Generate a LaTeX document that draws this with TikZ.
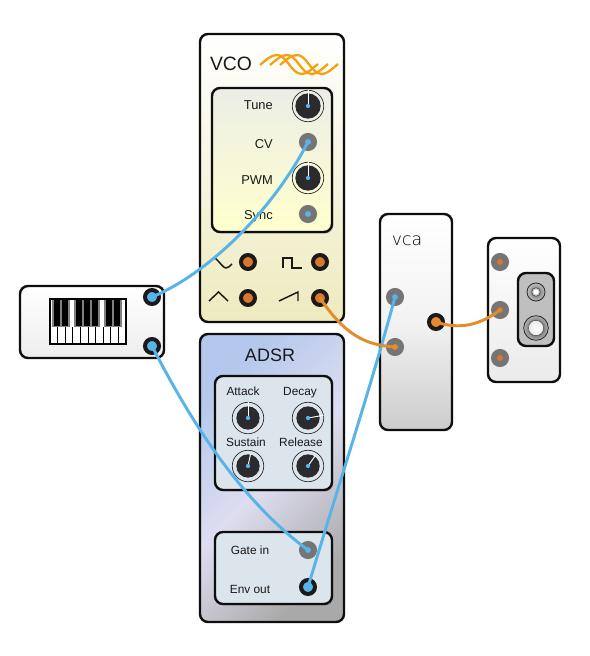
\documentclass[tikz,border=0pt]{standalone}
\usepackage{fontspec}
\setmainfont{Liberation Sans}
\newfontfamily\thinfont{DejaVu Sans ExtraLight}
\usetikzlibrary{shadows}
\definecolor{cblue}{HTML}{56B4E9}
\definecolor{corange}{HTML}{E68A2E}
\definecolor{dotorange}{HTML}{D9782A}
\definecolor{portgrey}{HTML}{757575}
\definecolor{portblack}{HTML}{1A1A1A}
\definecolor{edge}{HTML}{0E0E0E}
\definecolor{knobdark}{HTML}{2B2B2D}
\definecolor{waveorange}{HTML}{F5A010}
\definecolor{adsrA}{HTML}{A9A9A9}
\definecolor{adsrB}{HTML}{DEDDF0}
\definecolor{adsrC}{HTML}{B3C8EC}
\pgfdeclareverticalshading{adsrshade}{100bp}{color(0bp)=(adsrA); color(25bp)=(adsrA); color(50bp)=(adsrB); color(75bp)=(adsrC); color(100bp)=(adsrC)}
\tikzset{
  panel/.style={draw=edge,line width=1.8pt,rounded corners=6pt,inner sep=0pt,outer sep=0pt},
  inset/.style={draw=edge,line width=1.8pt,rounded corners=6pt,inner sep=0pt,outer sep=0pt,
    drop shadow={shadow xshift=1pt,shadow yshift=-1.2pt,opacity=.35}},
  lab/.style={inner sep=0pt,font=\fontsize{9.65pt}{11pt}\selectfont,text=black!90},
  smalllab/.style={inner sep=0pt,anchor=base,font=\fontsize{8.9pt}{11pt}\selectfont,text=black!90},
  portg/.style={circle,inner sep=0pt,outer sep=0pt,minimum size=9pt,line width=4.5pt,draw=portgrey},
  portb/.style={circle,inner sep=0pt,outer sep=0pt,minimum size=10.5pt,line width=3pt,draw=portblack},
  cable/.style={line width=2.2pt,line cap=round},
  glyph/.style={line width=1.1pt,draw=black!90},
  wave/.style={line width=1.7pt,draw=waveorange},
  pics/knob/.style n args={3}{code={
    \node[circle,draw=black!85,line width=.5pt,minimum size=23.6pt,inner sep=0pt] (-ring) {};
    \node[circle,fill=knobdark,minimum size=#1pt,inner sep=0pt] (-disk) {};
    \draw[white,line width=.7pt] (0,0) -- (#2,#3);
    \fill[cblue] (0,0) circle[radius=1.6pt];
  }},
}
\begin{document}
\begin{tikzpicture}[x=.75pt,y=-.75pt]
\useasboundingbox (0,0) rectangle (589,656);
\fill[white] (0,0) rectangle (589,656);

% VCO
\node[panel,minimum width=108pt,minimum height=216pt,
      top color=white,bottom color={rgb,255:red,238;green,234;blue,190}] (vco) at (272,178) {};
\node[inset,top color={rgb,255:red,236;green,238;blue,230},bottom color={rgb,255:red,255;green,255;blue,205},
      minimum width=90pt,minimum height=108pt] (vcoin) at (272,160) {};
\node[inner sep=0pt,anchor=base,font=\fontsize{14.5pt}{16pt}\selectfont,text=black!90] (vcot) at (231,70.5) {VCO};
\foreach \d in {0,10,20}
  \draw[wave,xshift=\d*.75pt] (260,65) .. controls (266,60) and (271,55) .. (277,55)
     .. controls (287,55) and (291,74) .. (302,74) .. controls (307,74) and (312,69) .. (318,64);
\node[lab,anchor=base east] (ltune) at (273,110) {Tune};
\node[lab,anchor=base east] (lcv) at (273,149) {CV};
\node[lab,anchor=base east] (lpwm) at (273,184) {PWM};
\node[lab,anchor=base east] (lsync) at (273,219) {Sync};
\pic (tune) at (308,106) {knob={19}{0}{-16}};
\pic (pwm) at (308,178) {knob={19}{0}{-16}};
\node[portg,fill=cblue] (cv) at (308,142) {};
\node[portg,fill=cblue] (sync) at (308,214) {};
\node[portb,fill=dotorange] (o1) at (248,262) {};
\node[portb,fill=dotorange] (o2) at (320,262) {};
\node[portb,fill=dotorange] (o3) at (248,298) {};
\node[portb,fill=dotorange] (o4) at (320,298) {};
\draw[glyph] (215,258) .. controls (220,262) and (223,268) .. (226,268) .. controls (228,268) and (230,266) .. (232,264);
\draw[glyph] (283,268) -- (283,258) -- (292,258) -- (292,268) -- (302,268);
\draw[glyph] (209,301) -- (218.5,292) -- (228,301);
\draw[glyph] (279,301) -- (298,292) -- (298,301);

% Keyboard
\node[panel,top color=white,bottom color=black!7,minimum width=108pt,minimum height=54pt] (kb) at (92,322) {};
\node[draw=black,line width=1.8pt,fill=white,minimum width=57pt,minimum height=33.75pt,inner sep=0pt,outer sep=0pt] (keys) at (88,321.5) {};
\foreach \k in {1,...,9}
  \draw[black,line width=.7pt] (50+\k*7.6,327) -- (50+\k*7.6,344);
\foreach \a/\b in {53/70,75/100,105/122}
  \fill[black] (\a,299) rectangle (\b,327);
\foreach \g in {53,61,69,75,83,91,99,105,113,121}
  \draw[black!50,line width=1.25pt] (\g,300) -- (\g,327);
\foreach \a/\b in {53/70,75/100,105/122}
  \draw[black!50,line width=.9pt] (\a,326.5) -- (\b,326.5);
\node[portb,fill=cblue] (kb1) at (152,297) {};
\node[portb,fill=cblue] (kb2) at (152,346) {};

% ADSR
\node[panel,shading=adsrshade,shading angle=45,minimum width=108pt,minimum height=216pt] (adsr) at (272,478) {};
\node[inner sep=0pt,anchor=base,font=\fontsize{13.5pt}{16pt}\selectfont,text=black!90] (adsrt) at (270,361) {ADSR};
\node[inset,fill={rgb,255:red,220;green,228;blue,236},minimum width=87.75pt,minimum height=85.5pt] (env1) at (273.5,433) {};
\node[smalllab] (lat) at (243,395) {Attack};
\node[smalllab] (lde) at (300,395) {Decay};
\node[smalllab] (lsu) at (246,446) {Sustain};
\node[smalllab] (lre) at (301,446) {Release};
\pic (attack) at (248,418) {knob={17.5}{0}{-16}};
\pic (decay) at (308,418) {knob={17.5}{15.5}{-2.7}};
\pic (sustain) at (248,466) {knob={17.5}{2.5}{-11.7}};
\pic (release) at (308,466) {knob={17.5}{7}{-10}};
\node[inset,fill={rgb,255:red,220;green,228;blue,236},minimum width=87.75pt,minimum height=54pt] (env2) at (273.5,568) {};
\node[smalllab] (lgate) at (250,554) {Gate in};
\node[smalllab] (lenv) at (250,593) {Env out};
\node[portg,fill=cblue] (gate) at (308,550) {};
\node[portb,fill=cblue] (envout) at (308,587) {};

% VCA
\node[panel,top color=white,bottom color=black!20,middle color=black!5,minimum width=54pt,minimum height=162pt] (vca) at (416,322) {};
\node[inner sep=0pt,font=\thinfont\fontsize{13pt}{15pt}\selectfont] (vcat) at (407,241) {vca};
\node[portg,fill=cblue] (vcacv) at (395,297) {};
\node[portg,fill=corange] (vcain) at (395,347) {};
\node[portb,fill=corange] (vcaout) at (436,322) {};

% Output
\node[panel,top color=white,bottom color=black!8,minimum width=54pt,minimum height=108pt] (out) at (524,310) {};
\node[portg,fill=dotorange] (out1) at (500,262) {};
\node[portg,fill=dotorange] (out2) at (500,310) {};
\node[portg,fill=dotorange] (out3) at (500,358) {};
\node[panel,fill=black!25,minimum width=27pt,minimum height=54.75pt] (jacks) at (536,309.5) {};
\node[circle,draw=black!85,line width=.6pt,inner color=black!60,outer color=black!25,minimum size=13.5pt,inner sep=0pt] (j1) at (536,292) {};
\node[circle,draw=black!70,line width=.5pt,fill=black!20,minimum size=6.5pt,inner sep=0pt] (j1b) at (536,292) {};
\node[circle,fill=white,minimum size=3.6pt,inner sep=0pt] (j1c) at (536,292) {};
\node[circle,draw=black!85,line width=.6pt,inner color=black!80,outer color=black!30,minimum size=18.5pt,inner sep=0pt] (j2) at (536,328) {};
\node[circle,draw=black!70,line width=.4pt,inner color=white,outer color=black!8,minimum size=11.5pt,inner sep=0pt] (j2c) at (536,328) {};

% Cables
\draw[cable,cblue] (kb1.center) .. controls (205,275) and (270,215) .. (cv.center);
\draw[cable,cblue] (kb2.center) .. controls (190,420) and (240,500) .. (gate.center);
\draw[cable,cblue] (envout.center) .. controls (340,480) and (370,390) .. (vcacv.center);
\draw[cable,corange] (o4.center) .. controls (345,335) and (365,345) .. (vcain.center);
\draw[cable,corange] (vcaout.center) .. controls (460,330) and (480,325) .. (out2.center);
\end{tikzpicture}
\end{document}
